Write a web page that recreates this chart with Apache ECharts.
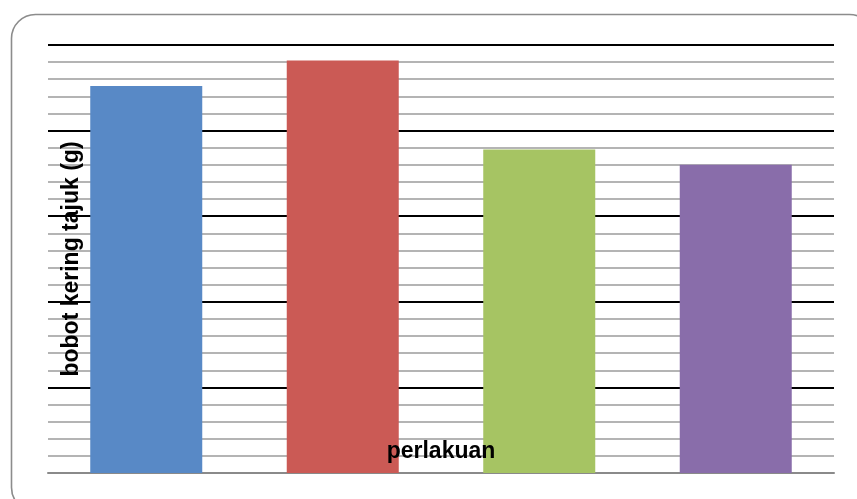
<!DOCTYPE html>
<html>
<head>
<meta charset="utf-8">
<script src="https://cdn.jsdelivr.net/npm/echarts@6/dist/echarts.min.js"></script>
<style>
  html, body { margin: 0; padding: 0; background: #ffffff; }
  #chart { width: 857px; height: 499px; }
</style>
</head>
<body>
<div id="chart"></div>
<script>
// Treatments (perlakuan) and shoot dry weight values
const categories = ['P1', 'P2', 'P3', 'P4'];
const values = [22.6, 24.1, 18.9, 18.0];
const barColors = ['#5889c6', '#cb5a55', '#a6c463', '#896daa'];

const yMin = 0;
const yMax = 25;
const yMajor = 5;

const xTitle = 'perlakuan';
const yTitle = 'bobot kering tajuk (g)';

const titleFont = 'bold 23px "Liberation Sans", Arial, sans-serif';

const chart = echarts.init(document.getElementById('chart'), null, { renderer: 'canvas' });

chart.setOption({
  animation: false,
  backgroundColor: '#ffffff',
  graphic: [
    {
      // rounded chart frame, running past the right and bottom edges
      type: 'rect',
      left: 9,
      top: 12,
      shape: { width: 862, height: 497, r: 24 },
      style: { fill: 'none', stroke: '#8c8c8c', lineWidth: 1.6 },
      z: -10
    },
    {
      // axis titles sit on top of the bars
      type: 'text',
      x: 441,
      y: 452,
      style: { text: xTitle, font: titleFont, fill: '#000', align: 'center', verticalAlign: 'middle' },
      z: 100
    },
    {
      type: 'text',
      x: 72,
      y: 259,
      rotation: Math.PI / 2,
      style: { text: yTitle, font: titleFont, fill: '#000', align: 'center', verticalAlign: 'middle' },
      z: 100
    }
  ],
  grid: { left: 48, right: 23, top: 45, bottom: 26, containLabel: false },
  xAxis: {
    type: 'category',
    data: categories,
    axisLine: { show: true, lineStyle: { color: '#8a8a8a', width: 2 } },
    axisTick: { show: false },
    axisLabel: { show: false },
    splitLine: { show: false }
  },
  yAxis: {
    type: 'value',
    min: yMin,
    max: yMax,
    interval: yMajor,
    axisLine: { show: false },
    axisTick: { show: false },
    axisLabel: { show: false },
    splitLine: { show: true, lineStyle: { color: '#000000', width: 2 } },
    minorTick: { show: false, splitNumber: 5 },
    minorSplitLine: { show: true, lineStyle: { color: '#b4b4b4', width: 2 } }
  },
  series: [{
    type: 'bar',
    barWidth: '57%',
    data: values.map((v, i) => ({ value: v, itemStyle: { color: barColors[i] } })),
    z: 3
  }]
});
</script>
</body>
</html>
